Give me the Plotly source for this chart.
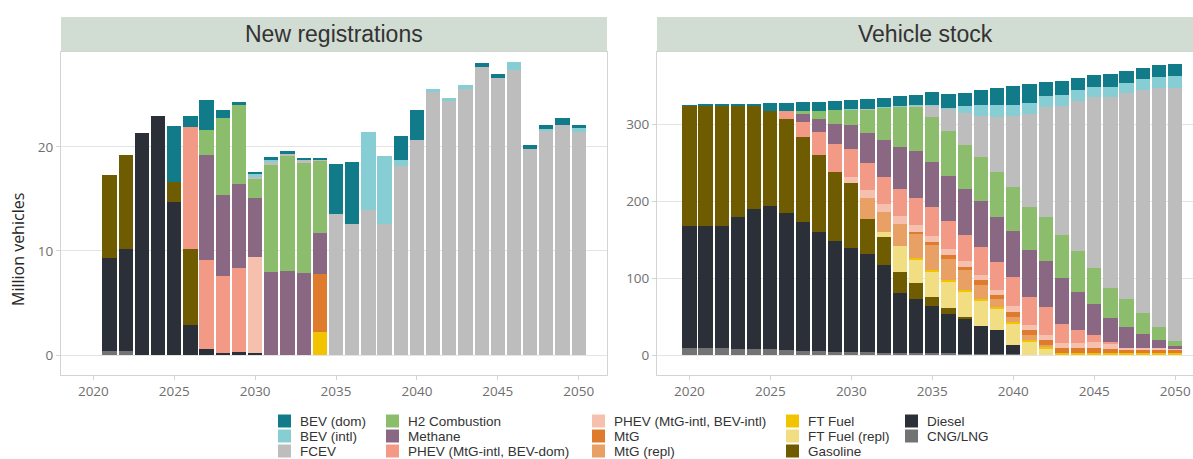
import plotly.graph_objects as go

# ---------------------------------------------------------------- data
years = [2020, 2021, 2022, 2023, 2024, 2025, 2026, 2027, 2028, 2029,
         2030, 2031, 2032, 2033, 2034, 2035, 2036, 2037, 2038, 2039,
         2040, 2041, 2042, 2043, 2044, 2045, 2046, 2047, 2048, 2049,
         2050]

# series names, top of the stack first (legend order)
series = ["BEV (dom)", "BEV (intl)", "FCEV", "H2 Combustion", "Methane",
          "PHEV (MtG-intl, BEV-dom)", "PHEV (MtG-intl, BEV-intl)", "MtG",
          "MtG (repl)", "FT Fuel", "FT Fuel (repl)", "Gasoline", "Diesel",
          "CNG/LNG"]

colors = {
    "BEV (dom)": "#127b8a",
    "BEV (intl)": "#86ced3",
    "FCEV": "#bdbdbd",
    "H2 Combustion": "#8bbd6c",
    "Methane": "#8a6884",
    "PHEV (MtG-intl, BEV-dom)": "#f39a86",
    "PHEV (MtG-intl, BEV-intl)": "#f5c0ae",
    "MtG": "#de7b2d",
    "MtG (repl)": "#e9a065",
    "FT Fuel": "#f2c400",
    "FT Fuel (repl)": "#f2de82",
    "Gasoline": "#6f5b00",
    "Diesel": "#2b3038",
    "CNG/LNG": "#727375",
}

# New registrations, million vehicles (2020 .. 2050)
reg_bev_dom = [0, 0, 0, 0, 0, 5.4, 1.0, 2.9, 0.8, 0.3,
               0.2, 0.35, 0.3, 0.25, 0.15, 4.8, 6.0, 0, 0, 2.35,
               2.9, 0, 0, 0, 0.45, 0.4, 0, 0.36, 0.34, 0.66,
               0.24]
reg_bev_intl = [0, 0, 0, 0, 0, 0, 0, 0, 0, 0,
                0.3, 0.1, 0, 0, 0, 0, 0, 7.5, 6.5, 0.55,
                0, 0.3, 0.25, 0.4, 0, 0, 0.8, 0, 0.26, 0,
                0.46]
reg_fcev = [0, 0, 0, 0, 0, 0, 0, 0, 0, 0,
            0.2, 0.3, 0.1, 0.2, 0.1, 13.55, 12.6, 13.9, 12.6, 18.2,
            20.7, 25.3, 24.45, 25.55, 27.66, 26.6, 27.4, 19.84, 21.5, 22.1,
            21.4]
reg_h2 = [0, 0, 0, 0, 0, 0, 0, 2.4, 7.45, 7.6,
          1.8, 10.3, 11.1, 10.65, 7.0, 0, 0, 0, 0, 0,
          0, 0, 0, 0, 0, 0, 0, 0, 0, 0,
          0]
reg_methane = [0, 0, 0, 0, 0, 0, 0, 10.1, 7.75, 8.0,
               5.65, 8.0, 8.1, 7.85, 3.9, 0, 0, 0, 0, 0,
               0, 0, 0, 0, 0, 0, 0, 0, 0, 0,
               0]
reg_phev_dom = [0, 0, 0, 0, 0, 0, 11.8, 8.5, 7.45, 8.1,
                0, 0, 0, 0, 0, 0, 0, 0, 0, 0,
                0, 0, 0, 0, 0, 0, 0, 0, 0, 0,
                0]
reg_phev_intl = [0, 0, 0, 0, 0, 0, 0, 0, 0, 0,
                 9.3, 0, 0, 0, 0, 0, 0, 0, 0, 0,
                 0, 0, 0, 0, 0, 0, 0, 0, 0, 0,
                 0]
reg_mtg = [0, 0, 0, 0, 0, 0, 0, 0, 0, 0,
           0, 0, 0, 0, 5.6, 0, 0, 0, 0, 0,
           0, 0, 0, 0, 0, 0, 0, 0, 0, 0,
           0]
reg_mtg_repl = [0] * 31
reg_ft = [0, 0, 0, 0, 0, 0, 0, 0, 0, 0,
          0, 0, 0, 0, 2.2, 0, 0, 0, 0, 0,
          0, 0, 0, 0, 0, 0, 0, 0, 0, 0,
          0]
reg_ft_repl = [0] * 31
reg_gasoline = [0, 8.0, 9.0, 0, 0, 1.9, 7.3, 0, 0, 0,
                0, 0, 0, 0, 0, 0, 0, 0, 0, 0,
                0, 0, 0, 0, 0, 0, 0, 0, 0, 0,
                0]
reg_diesel = [0, 8.9, 9.8, 21.3, 23.0, 14.7, 2.85, 0.6, 0.15, 0.3,
              0.15, 0, 0, 0, 0, 0, 0, 0, 0, 0,
              0, 0, 0, 0, 0, 0, 0, 0, 0, 0,
              0]
reg_cng = [0, 0.4, 0.4, 0, 0, 0, 0, 0, 0, 0,
           0, 0, 0, 0, 0, 0, 0, 0, 0, 0,
           0, 0, 0, 0, 0, 0, 0, 0, 0, 0,
           0]

# Vehicle stock, million vehicles (2020 .. 2050)
stock_bev_dom = [0.5, 1.0, 1.2, 1.5, 2.0, 9.5, 9.5, 12.1, 11.7, 11.7,
                 12.1, 12.5, 11.7, 13.0, 13.0, 17.3, 18.2, 17.3, 19.5, 21.6,
                 23.8, 25.1, 18.6, 18.1, 15.6, 15.1, 16.1, 15.6, 14.3, 14.7,
                 15.2]
stock_bev_intl = [0, 0, 0, 0, 0, 0, 0, 0, 0, 0,
                  0.3, 0.4, 0.4, 0.4, 0.4, 0.4, 0.5, 9.0, 15.0, 15.2,
                  15.2, 14.0, 13.5, 14.0, 14.0, 13.5, 13.5, 13.5, 14.0, 14.0,
                  15.5]
stock_fcev = [0, 0, 0, 0, 0, 0, 0, 0, 0, 0,
              0.2, 0.5, 0.6, 0.8, 0.9, 15.1, 28.3, 41.2, 52.8, 71.4,
              91.8, 121.2, 143.7, 167.6, 194.8, 221.6, 248.1, 267.1, 289.2, 310.8,
              328.1]
stock_h2 = [0, 0, 0, 0, 0, 0, 0, 4.3, 11.3, 18.6,
            20.3, 30.8, 41.6, 52.0, 58.5, 58.5, 58.4, 57.5, 57.6, 58.4,
            57.5, 56.3, 56.3, 56.2, 54.1, 46.8, 39.0, 36.8, 26.9, 16.5,
            6.5]
stock_methane = [0, 0, 0, 0, 0, 0, 0, 9.6, 17.0, 25.6,
                 31.2, 38.9, 48.4, 55.0, 60.6, 58.4, 58.5, 59.4, 59.3, 58.5,
                 59.3, 60.6, 59.7, 59.8, 49.0, 41.1, 31.1, 27.3, 19.4, 11.6,
                 4.3]
stock_phev_dom = [0, 0, 0, 0, 0, 0, 11.3, 20.3, 29.0, 36.0,
                  36.8, 35.5, 35.6, 35.0, 34.6, 36.8, 36.8, 34.6, 35.9, 36.8,
                  38.1, 35.9, 36.8, 25.1, 16.0, 8.7, 1.5, 0, 0, 0,
                  0]
stock_phev_intl = [0, 0, 0, 0, 0, 0, 0, 0, 0, 0,
                   7.7, 9.5, 9.5, 9.5, 9.0, 8.0, 8.0, 7.5, 7.5, 7.0,
                   7.0, 7.0, 6.5, 6.5, 7.5, 8.0, 8.0, 1.5, 1.0, 1.0,
                   0.5]
stock_mtg = [0, 0, 0, 0, 0, 0, 0, 0, 0, 0,
             0, 0, 0, 0, 2.2, 4.3, 4.4, 4.3, 6.5, 4.3,
             6.5, 6.5, 6.5, 5.7, 5.7, 6.5, 5.0, 5.0, 5.0, 5.0,
             5.0]
stock_mtg_repl = [0, 0, 0, 0, 0, 0, 0, 0, 0, 0,
                  0, 28.1, 26.0, 29.0, 32.5, 32.5, 28.1, 26.0, 17.3, 10.8,
                  6.5, 6.5, 2.0, 0, 0, 0, 0, 0, 0, 0,
                  0]
stock_ft = [0, 0, 0, 0, 0, 0, 0, 0, 0, 0,
            0, 0, 0, 0, 2.0, 2.0, 2.0, 2.0, 2.0, 2.0,
            2.0, 2.0, 2.8, 3.0, 3.0, 2.2, 2.3, 2.5, 2.5, 2.5,
            2.5]
stock_ft_repl = [0, 0, 0, 0, 0, 0, 0, 0, 0, 0,
                 0, 0, 6.3, 33.4, 30.4, 32.6, 34.8, 32.6, 33.9, 27.5,
                 28.3, 17.4, 8.0, 0, 0, 0, 0, 0, 0, 0,
                 0]
stock_gasoline = [155.4, 155.7, 155.7, 145.4, 134.0, 123.3, 121.2, 110.4, 100.0, 89.5,
                  83.6, 45.5, 36.8, 28.2, 20.8, 12.2, 6.5, 2.0, 0, 0,
                  0, 0, 0, 0, 0, 0, 0, 0, 0, 0,
                  0]
stock_diesel = [159.3, 159.3, 159.5, 170.6, 182.2, 186.6, 178.3, 166.7, 154.8, 144.2,
                135.5, 127.2, 113.9, 77.8, 70.1, 61.4, 51.9, 45.6, 35.5, 31.1,
                11.7, 0, 0, 0, 0, 0, 0, 0, 0, 0,
                0]
stock_cng = [8.7, 8.7, 8.5, 8.2, 7.8, 7.4, 6.5, 5.6, 5.2, 4.3,
             3.9, 3.5, 3.0, 2.2, 2.2, 2.0, 2.0, 1.8, 1.8, 1.6,
             1.3, 0, 0, 0, 0, 0, 0, 0, 0, 0,
             0]

registrations = {
    "BEV (dom)": reg_bev_dom, "BEV (intl)": reg_bev_intl, "FCEV": reg_fcev,
    "H2 Combustion": reg_h2, "Methane": reg_methane,
    "PHEV (MtG-intl, BEV-dom)": reg_phev_dom,
    "PHEV (MtG-intl, BEV-intl)": reg_phev_intl, "MtG": reg_mtg,
    "MtG (repl)": reg_mtg_repl, "FT Fuel": reg_ft, "FT Fuel (repl)": reg_ft_repl,
    "Gasoline": reg_gasoline, "Diesel": reg_diesel, "CNG/LNG": reg_cng,
}
stock = {
    "BEV (dom)": stock_bev_dom, "BEV (intl)": stock_bev_intl, "FCEV": stock_fcev,
    "H2 Combustion": stock_h2, "Methane": stock_methane,
    "PHEV (MtG-intl, BEV-dom)": stock_phev_dom,
    "PHEV (MtG-intl, BEV-intl)": stock_phev_intl, "MtG": stock_mtg,
    "MtG (repl)": stock_mtg_repl, "FT Fuel": stock_ft,
    "FT Fuel (repl)": stock_ft_repl, "Gasoline": stock_gasoline,
    "Diesel": stock_diesel, "CNG/LNG": stock_cng,
}

panel_titles = ["New registrations", "Vehicle stock"]
x_ticks = [2020, 2025, 2030, 2035, 2040, 2045, 2050]
y_ticks_left = [0, 10, 20]
y_ticks_right = [0, 100, 200, 300]

# ---------------------------------------------------------------- geometry
W, H = 1193, 459


def px(x):
    return x / W


def py(y):
    return 1 - y / H


PLOT_TOP, PLOT_BOTTOM = 52, 375
STRIP_TOP = 17
LEFT_PANEL = (61, 607)
RIGHT_PANEL = (657, 1193)

GRID = "#e4e4e4"
FRAME = "#d3d3d3"
TICK_FONT = dict(family="Open Sans, sans-serif", size=13.5, color="#6f6f6f")

fig = go.Figure()

# bottom of the stack is drawn first
for name in reversed(series):
    fig.add_trace(go.Bar(
        x=years, y=registrations[name], name=name,
        marker=dict(color=colors[name], line=dict(width=0)),
        xaxis="x", yaxis="y", showlegend=False,
    ))
    fig.add_trace(go.Bar(
        x=years, y=stock[name], name=name,
        marker=dict(color=colors[name], line=dict(width=0)),
        xaxis="x2", yaxis="y2", showlegend=False,
    ))

axis_common = dict(
    showline=True, mirror=True, linecolor=FRAME, linewidth=1,
    ticks="outside", ticklen=4, tickcolor=FRAME, tickfont=TICK_FONT,
    zeroline=False,
)

fig.update_layout(
    width=W, height=H,
    margin=dict(l=0, r=0, t=0, b=0),
    paper_bgcolor="white", plot_bgcolor="white",
    barmode="stack", bargap=0.12,
    showlegend=False,
    xaxis=dict(domain=[px(LEFT_PANEL[0]), px(LEFT_PANEL[1])],
               range=[2018.0, 2051.75], tickvals=x_ticks, showgrid=False,
               anchor="y", **axis_common),
    yaxis=dict(domain=[py(PLOT_BOTTOM), py(PLOT_TOP)],
               range=[-1.923, 29.13], tickvals=y_ticks_left,
               showgrid=True, gridcolor=GRID, gridwidth=1,
               anchor="x", **axis_common),
    xaxis2=dict(domain=[px(RIGHT_PANEL[0]), px(RIGHT_PANEL[1])],
                range=[2018.0, 2051.1], tickvals=x_ticks, showgrid=False,
                anchor="y2", **axis_common),
    yaxis2=dict(domain=[py(PLOT_BOTTOM), py(PLOT_TOP)],
                range=[-25.97, 393.5], tickvals=y_ticks_right,
                showgrid=True, gridcolor=GRID, gridwidth=1,
                anchor="x2", **axis_common),
)

shapes = []
annotations = []

# facet strips
for (x0, x1), title in zip([LEFT_PANEL, RIGHT_PANEL], panel_titles):
    shapes.append(dict(type="rect", xref="paper", yref="paper",
                       x0=px(x0), x1=px(x1), y0=py(PLOT_TOP), y1=py(STRIP_TOP),
                       fillcolor="#d1dcd2", line=dict(width=0), layer="below"))
    annotations.append(dict(xref="paper", yref="paper",
                            x=px((x0 + x1) / 2), y=py((PLOT_TOP + STRIP_TOP) / 2),
                            text=title, showarrow=False,
                            xanchor="center", yanchor="middle",
                            font=dict(family="Liberation Sans, Arial, sans-serif",
                                      size=23, color="#333333")))

# y-axis title
annotations.append(dict(xref="paper", yref="paper", x=px(18), y=py(250),
                        text="Million vehicles", showarrow=False, textangle=-90,
                        xanchor="center", yanchor="middle",
                        font=dict(family="Open Sans, sans-serif", size=16,
                                  color="#262626")))

# legend: five columns of three entries, in stacking order
col_x = [278, 386, 592, 786, 905]
row_y = [421, 436, 451]
SW = 13
LEGEND_FONT = dict(family="Liberation Sans, Arial, sans-serif", size=13.5,
                   color="#333333")
for i, name in enumerate(series):
    c, r = divmod(i, 3)
    x0 = col_x[c]
    yc = row_y[r]
    shapes.append(dict(type="rect", xref="paper", yref="paper",
                       x0=px(x0), x1=px(x0 + SW),
                       y0=py(yc + SW / 2), y1=py(yc - SW / 2),
                       fillcolor=colors[name], line=dict(width=0)))
    annotations.append(dict(xref="paper", yref="paper",
                            x=px(x0 + SW + 8), y=py(yc), text=name,
                            showarrow=False, xanchor="left", yanchor="middle",
                            borderpad=0, font=LEGEND_FONT))

fig.update_layout(shapes=shapes, annotations=annotations)

fig.write_html("out.html")
